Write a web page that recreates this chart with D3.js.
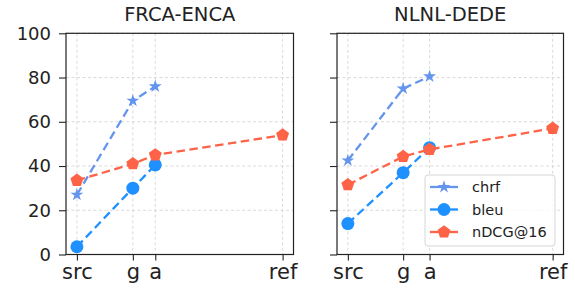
<!DOCTYPE html>
<html>
<head>
<meta charset="utf-8">
<script src="https://cdn.jsdelivr.net/npm/d3@7"></script>
<style>
  body { margin: 0; background: #fff; }
  svg { display: block; font-family: "DejaVu Sans", sans-serif; }
</style>
</head>
<body>
<div id="chart"></div>
<script>
// categories on the x axis and where they sit (numeric positions, per panel)
const categories = ["src", "g", "a", "ref"]
const panelTitles = ["FRCA-ENCA", "NLNL-DEDE"]
const xPosLeft  = [0, 0.272, 0.381, 1]
const xPosRight = [0, 0.270, 0.399, 1]

// series values (null = not plotted)
const chrfLeft  = [27, 69.5, 76, null]
const bleuLeft  = [3.5, 30, 40.5, null]
const ndcgLeft  = [33.5, 41, 45, 54]
const chrfRight = [42.5, 75, 80.5, null]
const bleuRight = [14, 37, 48.3, null]
const ndcgRight = [31.5, 44.3, 47.5, 57]

const yTicks = [0, 20, 40, 60, 80, 100]

const series = [
  { name: "chrf",     color: "#6495ED", marker: "star" },
  { name: "bleu",     color: "#1E90FF", marker: "circle" },
  { name: "nDCG@16",  color: "#FF6347", marker: "pentagon" }
]

const panels = [
  { title: panelTitles[0], x0: 66,  x1: 293.5, xs: xPosLeft,  vals: [chrfLeft, bleuLeft, ndcgLeft],   yLabels: true,  legend: false },
  { title: panelTitles[1], x0: 337, x1: 563.5, xs: xPosRight, vals: [chrfRight, bleuRight, ndcgRight], yLabels: false, legend: true }
]

const width = 575, height = 298
const yTop = 33.3, yBottom = 254.5

const svg = d3.select("#chart").append("svg")
  .attr("width", width)
  .attr("height", height)

const y = d3.scaleLinear().domain([0, 100]).range([yBottom, yTop])

// pentagon path, pointing up
function pentagon(r) {
  const pts = d3.range(5).map(i => {
    const a = -Math.PI / 2 + i * 2 * Math.PI / 5
    return [r * Math.cos(a), r * Math.sin(a)]
  })
  return "M" + pts.map(p => p.join(",")).join("L") + "Z"
}

function drawMarker(sel, kind, color) {
  if (kind === "circle") {
    sel.append("circle").attr("r", 6.5).attr("fill", color)
  } else if (kind === "star") {
    sel.append("path").attr("d", d3.symbol(d3.symbolStar, 52)()).attr("fill", color)
  } else {
    sel.append("path").attr("d", pentagon(6.8)).attr("fill", color)
  }
}

panels.forEach(p => {
  const x = d3.scaleLinear().domain([-0.053, 1.053]).range([p.x0, p.x1])
  const g = svg.append("g")

  // grid
  g.selectAll(".hgrid").data(yTicks).enter().append("line")
    .attr("x1", p.x0).attr("x2", p.x1)
    .attr("y1", d => y(d)).attr("y2", d => y(d))
    .attr("stroke", "#d0d0d0").attr("stroke-width", 0.8).attr("stroke-dasharray", "3,2.5")
  g.selectAll(".vgrid").data(p.xs).enter().append("line")
    .attr("x1", d => x(d)).attr("x2", d => x(d))
    .attr("y1", yTop).attr("y2", yBottom)
    .attr("stroke", "#d0d0d0").attr("stroke-width", 0.8).attr("stroke-dasharray", "3,2.5")

  // y axis
  const yAxis = d3.axisLeft(y).tickValues(yTicks).tickSize(7).tickPadding(8)
    .tickFormat(p.yLabels ? d3.format("d") : "")
  const ya = g.append("g").attr("transform", `translate(${p.x0},0)`).call(yAxis)
  ya.select(".domain").remove()
  ya.selectAll("line").attr("stroke", "#222").attr("stroke-width", 1.1)
  ya.selectAll("text").attr("font-size", 18).attr("fill", "#222")
    .attr("font-family", "DejaVu Sans")

  // x axis
  const xAxis = d3.axisBottom(x).tickValues(p.xs).tickSize(6).tickPadding(4)
    .tickFormat((d, i) => categories[i])
  const xa = g.append("g").attr("transform", `translate(0,${yBottom})`).call(xAxis)
  xa.select(".domain").remove()
  xa.selectAll("line").attr("stroke", "#222").attr("stroke-width", 1.1)
  xa.selectAll("text").attr("font-size", 21).attr("fill", "#222")
    .attr("font-family", "DejaVu Sans")

  // series
  series.forEach((s, si) => {
    const pts = p.vals[si].map((v, i) => ({ x: p.xs[i], v: v })).filter(d => d.v !== null)
    const line = d3.line().x(d => x(d.x)).y(d => y(d.v))
    g.append("path").datum(pts)
      .attr("d", line)
      .attr("fill", "none")
      .attr("stroke", s.color)
      .attr("stroke-width", 2.3)
      .attr("stroke-dasharray", "8.5,4.5")
    pts.forEach(d => {
      const m = g.append("g").attr("transform", `translate(${x(d.x)},${y(d.v)})`)
      drawMarker(m, s.marker, s.color)
    })
  })

  // frame
  g.append("rect")
    .attr("x", p.x0).attr("y", yTop)
    .attr("width", p.x1 - p.x0).attr("height", yBottom - yTop)
    .attr("fill", "none").attr("stroke", "#222").attr("stroke-width", 1.2)

  // title
  g.append("text")
    .attr("x", (p.x0 + p.x1) / 2).attr("y", 21)
    .attr("text-anchor", "middle")
    .attr("font-size", 19.5).attr("fill", "#222")
    .text(p.title)

  if (p.legend) {
    const lx = 425, ly = 175, lw = 130, lh = 71
    const lg = g.append("g")
    lg.append("rect")
      .attr("x", lx).attr("y", ly).attr("width", lw).attr("height", lh)
      .attr("rx", 3).attr("fill", "#fff").attr("fill-opacity", 0.8)
      .attr("stroke", "#d6d6d6").attr("stroke-width", 1)
    series.forEach((s, si) => {
      const ry = 187 + si * 22.5
      lg.append("line")
        .attr("x1", 430).attr("x2", 458).attr("y1", ry).attr("y2", ry)
        .attr("stroke", s.color).attr("stroke-width", 2.3)
      const m = lg.append("g").attr("transform", `translate(444,${ry})`)
      drawMarker(m, s.marker, s.color)
      lg.append("text")
        .attr("x", 472).attr("y", ry + 5)
        .attr("font-size", 14.5).attr("fill", "#222")
        .text(s.name)
    })
  }
})
</script>
</body>
</html>
